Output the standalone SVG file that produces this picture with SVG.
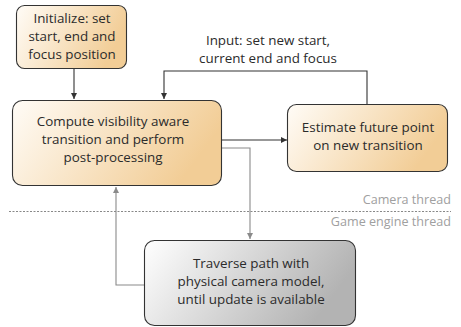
<svg xmlns="http://www.w3.org/2000/svg" width="461" height="327" viewBox="0 0 461 327">
<defs>
<linearGradient id="orange" x1="0" y1="0" x2="1" y2="0.3">
<stop offset="0" stop-color="#fffcf7"/>
<stop offset="1" stop-color="#f2cd96"/>
</linearGradient>
<linearGradient id="gray" x1="0" y1="0" x2="1" y2="0.3">
<stop offset="0" stop-color="#ffffff"/>
<stop offset="1" stop-color="#b3b3b3"/>
</linearGradient>
<marker id="ad" viewBox="0 0 10 10" refX="10" refY="5" markerWidth="7" markerHeight="6" markerUnits="userSpaceOnUse" orient="auto">
<path d="M0,0 L10,5 L0,10 z" fill="#333"/>
</marker>
<marker id="ag" viewBox="0 0 10 10" refX="10" refY="5" markerWidth="7" markerHeight="6" markerUnits="userSpaceOnUse" orient="auto">
<path d="M0,0 L10,5 L0,10 z" fill="#8a8a8a"/>
</marker>
</defs>
<style>
.box{stroke:#333;stroke-width:1.1}
.t{font-family:"Open Sans","Liberation Sans",sans-serif;font-size:13.4px;fill:#2b2b2b;text-anchor:middle}
.lbl{font-family:"Open Sans","Liberation Sans",sans-serif;font-size:12.6px;fill:#a0a0a0;text-anchor:end}
.cd{fill:none;stroke:#333;stroke-width:1.1}
.cg{fill:none;stroke:#8a8a8a;stroke-width:1.1}
</style>
<rect width="461" height="327" fill="#fff"/>
<g id="connectors">
<path class="cd" d="M74,69 V99" marker-end="url(#ad)"/>
<path class="cd" d="M367,104 V71 H164 V99" marker-end="url(#ad)"/>
<path class="cd" d="M222,140 H287" marker-end="url(#ad)"/>
<path class="cg" d="M222,148 H250 V239" marker-end="url(#ag)"/>
<path class="cg" d="M144,285 H116 V187" marker-end="url(#ag)"/>
<text class="t" x="268" y="45">Input: set new start,</text>
<text class="t" x="268" y="63">current end and focus</text>
</g>
<g id="threads">
<line x1="9" y1="211.5" x2="451" y2="211.5" stroke="#888" stroke-width="1" stroke-dasharray="2,1.5"/>
<text class="lbl" x="451" y="204">Camera thread</text>
<text class="lbl" x="451" y="226">Game engine thread</text>
</g>
<g id="init">
<rect class="box" x="16.5" y="5.5" width="110" height="63" rx="8" fill="url(#orange)"/>
<text class="t" x="72" y="23">Initialize: set</text>
<text class="t" x="72" y="41">start, end and</text>
<text class="t" x="72" y="59">focus position</text>
</g>
<g id="compute">
<rect class="box" x="12.5" y="100.5" width="209" height="85" rx="10" fill="url(#orange)"/>
<text class="t" x="113" y="126">Compute visibility aware</text>
<text class="t" x="113" y="144">transition and perform</text>
<text class="t" x="113" y="162">post-processing</text>
</g>
<g id="estimate">
<rect class="box" x="287.5" y="104.5" width="160" height="67" rx="9" fill="url(#orange)"/>
<text class="t" x="368" y="132">Estimate future point</text>
<text class="t" x="368" y="150">on new transition</text>
</g>
<g id="traverse">
<rect class="box" x="144.5" y="240.5" width="211" height="85" rx="10" fill="url(#gray)"/>
<text class="t" x="251" y="268">Traverse path with</text>
<text class="t" x="251" y="286">physical camera model,</text>
<text class="t" x="251" y="304">until update is available</text>
</g>
</svg>
